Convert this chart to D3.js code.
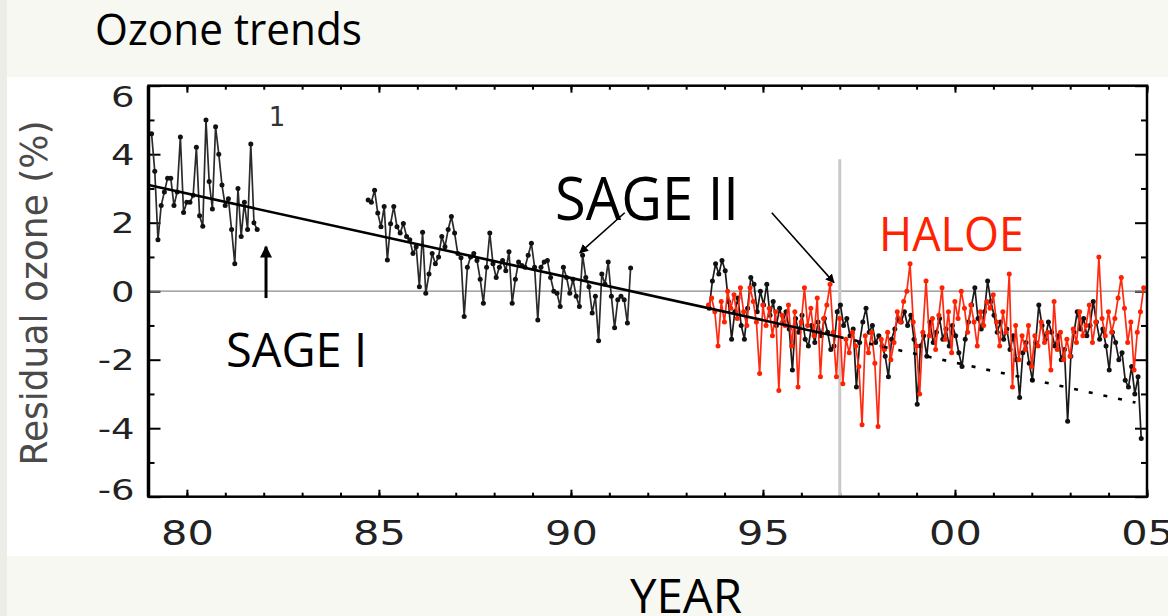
<!DOCTYPE html>
<html>
<head>
<meta charset="utf-8">
<script src="https://cdn.jsdelivr.net/npm/d3@7"></script>
<style>
  body { margin: 0; background: #f7f8f2; }
  svg { display: block; }
</style>
</head>
<body>
<svg id="chart" width="1168" height="616"></svg>
<script>
/**********************
***** DATA *****
**********************/

// monthly residuals, first value at the start year
const sage1Start = 79.08;
const sage1Values = [4.6, 3.5, 1.5, 2.5, 2.9, 3.3, 3.3, 2.5, 2.9, 4.5,
    2.3, 2.6, 2.6, 2.8, 4.2, 2.2, 1.9, 5.0, 3.2, 2.4,
    4.8, 4.0, 3.1, 2.5, 2.7, 1.8, 0.8, 3.0, 1.6, 2.6,
    1.8, 4.3, 2.0, 1.8];

const sage2aStart = 84.72;
const sage2aValues = [2.66, 2.6, 2.95, 2.28, 1.88, 2.47, 0.91, 1.97, 2.47, 1.88,
    1.7, 1.98, 1.6, 1.5, 1.1, 1.3, 0.13, 1.72, -0.06, 0.5,
    1.1, 0.8, 1.0, 1.6, 1.3, 1.8, 2.18, 1.7, 1.1, 0.98,
    -0.74, 0.7, 1.0, 1.1, 0.9, 0.35, -0.35, 0.7, 1.7, 0.8,
    0.4, 0.7, 0.9, 0.6, 1.15, -0.35, 0.35, 0.85, 0.75, 0.7,
    1.05, 1.4, 0.7, -0.84, 0.7, 0.85, 0.9, 0.4, 0.0, -0.06,
    -0.45, 0.7, 0.4, -0.06, 0.35, -0.15, -0.45, 1.05, 0.4, 0.13,
    -0.64, -0.15, -1.45, 0.5, 0.2, 0.85, -0.15, -1.07, -0.25, -0.15,
    -0.25, -0.93, 0.68];

const sage2bStart = 93.6;
const sage2bValues = [-0.5, 0.3, 0.8, 0.5, 0.9, 0.6, -0.3, -1.4, -0.6, -0.2,
    -1.0, -1.4, -0.5, 0.4, 0.2, -0.6, 0.0, -0.4, 0.2, -0.7,
    -0.3, -1.0, -0.5, -0.9, -0.6, -1.1, -2.3, -0.8, -1.2, -0.7,
    -1.4, -1.6, -1.0, -1.5, -0.9, -1.3, -0.8, -1.2, -1.7, -1.6,
    -0.6, -0.4, -1.0, -0.8, -1.3, -1.1, -2.8, -1.5, -0.9, -0.5,
    -1.2, -1.0, -1.5, -1.3, -1.6, -1.9, -2.5, -1.4, -1.1, -0.8,
    -0.9, -0.6, -1.0, -0.7, -1.4, -3.3, -1.6, -1.3, -1.9, -0.9,
    -1.5, -1.2, -0.8, -1.4, -1.1, -1.6, -1.0, -1.3, -1.8, -2.2,
    -1.4, -0.9, -0.4, 0.1, -0.8, -1.1, -0.6, 0.3, -0.3, -0.7,
    -1.2, -0.9, -1.4, -1.1, -1.7, -1.3, -2.0, -3.1, -1.8, -1.5,
    -2.1, -2.6, -1.5, -0.4, -1.0, -1.4, -0.9, -1.2, -1.6, -1.3,
    -2.0, -1.7, -3.8, -1.9, -1.2, -0.6, -1.1, -0.8, -1.3, -1.0,
    -0.3, -0.9, -1.4, -1.1, -1.6, -2.3, -1.2, -1.5, -2.0, -1.8,
    -2.6, -2.8, -2.2, -3.0, -2.5, -4.3];

const haloeStart = 93.58;
const haloeValues = [-0.4, -0.2, -0.6, -1.6, -0.3, -0.9, 0.0, -0.5, -0.1, -0.8,
    0.1, -0.6, -1.0, 0.1, -0.3, -0.9, -2.4, -0.4, -1.0, -0.5,
    -1.3, -0.6, -2.9, -0.7, -1.0, -0.4, -1.6, -0.6, -2.8, -0.9,
    0.1, -1.0, -0.5, -1.3, -0.2, -2.5, -0.8, -0.4, 0.2, -1.2,
    -2.5, -0.8, -2.7, -1.4, -1.8, -1.2, -1.6, -2.2, -3.9, -1.3,
    -1.8, -1.2, -2.1, -3.95, -1.4, -1.7, -1.2, -2.0, -1.5, -0.6,
    -0.9, -0.3, 0.0, 0.8, -0.9, -1.6, -3.0, -1.2, 0.3, -1.3,
    -0.8, -1.7, -0.7, 0.1, -1.4, -0.6, -1.8, -0.3, -0.8, 0.0,
    -0.5, -1.2, -0.4, -0.9, -1.6, -0.6, -1.0, -0.3, -0.5, -0.1,
    -0.9, -1.6, -0.6, -1.2, 0.5, -2.8, -1.0, -2.0, -1.3, -1.7,
    -1.0, -2.2, -1.3, -1.6, -0.9, -1.5, -1.2, -2.3, -0.3, -1.7,
    -1.2, -2.0, -1.4, -1.9, -1.1, -1.5, -0.6, -1.3, -1.0, -0.4,
    -1.5, -0.9, 1.0, -0.8, -1.3, -0.6, -1.2, -0.8, -0.2, 0.4,
    -0.5, -1.5, -0.9, -2.3, -1.2, -0.6, 0.1];

// linear trend and its extrapolation
const trendYears = [79, 97];
const trendValues = [3.1, -1.34];
const trendExtYears = [97, 104.7];
const trendExtValues = [-1.34, -3.25];

// axis ticks
const yearMajor = [80, 85, 90, 95, 100, 105];
const yearMinor = d3.range(79, 106);
const valueMajor = [-6, -4, -2, 0, 2, 4, 6];
const valueMinor = [-5, -3, -1, 1, 3, 5];

const splitYear = 97;

/**********************
***** BASIC SETUP *****
**********************/

const svg = d3.select("#chart");
const margin = {top: 85.7, left: 148.5, right: 21, bottom: 119.3};
const width = 1168, height = 616;

const xScale = d3.scaleLinear()
    .domain([79, 105])
    .range([margin.left, width - margin.right]);
const yScale = d3.scaleLinear()
    .domain([-6, 6])
    .range([height - margin.bottom, margin.top]);

const toSeries = (start, values) => values.map((v, i) => ({year: start + i / 12, value: v}));

// page background and white panel
svg.append("rect").attr("x", 0).attr("y", 0).attr("width", 7).attr("height", height).attr("fill", "#ecede6");
svg.append("rect").attr("x", 7).attr("y", 77).attr("width", width - 7).attr("height", 479).attr("fill", "#ffffff");

/***************************************
***** AXES *****
***************************************/

const noLabel = () => "";
const labelScale = 1.32;

function styleAxis(g) {
    g.select(".domain").remove();
    g.selectAll("line").attr("stroke", "#000").attr("stroke-width", 2);
}

// left
svg.append("g")
    .attr("transform", `translate(${margin.left},0)`)
    .call(d3.axisLeft(yScale).tickValues(valueMinor).tickSizeInner(-6).tickFormat(noLabel))
    .call(styleAxis);
const yAxis = svg.append("g")
    .attr("transform", `translate(${margin.left},0)`)
    .call(d3.axisLeft(yScale).tickValues(valueMajor).tickSizeInner(-12).tickPadding(14)
        .tickFormat(d => String(d)))
    .call(styleAxis);
yAxis.selectAll("text")
    .style("font-family", "DejaVu Sans")
    .style("font-size", "28px")
    .attr("fill", "#222")
    .attr("x", -14 / labelScale)
    .attr("dy", d => d === 6 ? "0.75em" : d === -6 ? "0.1em" : "0.36em")
    .attr("transform", `scale(${labelScale},1)`);

// right
svg.append("g")
    .attr("transform", `translate(${width - margin.right},0)`)
    .call(d3.axisRight(yScale).tickValues(valueMinor).tickSizeInner(-6).tickFormat(noLabel))
    .call(styleAxis);
svg.append("g")
    .attr("transform", `translate(${width - margin.right},0)`)
    .call(d3.axisRight(yScale).tickValues(valueMajor).tickSizeInner(-12).tickFormat(noLabel))
    .call(styleAxis);

// top
svg.append("g")
    .attr("transform", `translate(0,${margin.top})`)
    .call(d3.axisTop(xScale).tickValues(yearMinor).tickSizeInner(-4).tickFormat(noLabel))
    .call(styleAxis);
svg.append("g")
    .attr("transform", `translate(0,${margin.top})`)
    .call(d3.axisTop(xScale).tickValues(yearMajor).tickSizeInner(-7).tickFormat(noLabel))
    .call(styleAxis);

// bottom
svg.append("g")
    .attr("transform", `translate(0,${height - margin.bottom})`)
    .call(d3.axisBottom(xScale).tickValues(yearMinor).tickSizeInner(-4).tickFormat(noLabel))
    .call(styleAxis);
const xAxis = svg.append("g")
    .attr("transform", `translate(0,${height - margin.bottom})`)
    .call(d3.axisBottom(xScale).tickValues(yearMajor).tickSizeInner(-7).tickPadding(24)
        .tickFormat(d => String(d % 100).padStart(2, "0")))
    .call(styleAxis);
xAxis.selectAll("text")
    .style("font-family", "DejaVu Sans")
    .style("font-size", "34px")
    .attr("fill", "#222")
    .attr("x", 0)
    .attr("transform", `scale(${labelScale - 0.1},1)`);

/***************************************
***** REFERENCE LINES *****
***************************************/

svg.append("line")
    .attr("x1", xScale(79)).attr("x2", xScale(105))
    .attr("y1", yScale(0)).attr("y2", yScale(0))
    .attr("stroke", "#8a8a8a").attr("stroke-width", 1.2);

svg.append("line")
    .attr("x1", xScale(splitYear)).attr("x2", xScale(splitYear))
    .attr("y1", yScale(3.85)).attr("y2", yScale(-6))
    .attr("stroke", "#c9c9c9").attr("stroke-width", 3);

/***************************************
***** SERIES *****
***************************************/

const line = d3.line().x(d => xScale(d.year)).y(d => yScale(d.value));

function drawSeries(data, lineColor, dotColor) {
    const g = svg.append("g");
    g.append("path")
        .datum(data)
        .attr("d", line)
        .attr("fill", "none")
        .attr("stroke", lineColor)
        .attr("stroke-width", 1.7)
        .attr("stroke-linejoin", "round");
    g.selectAll("circle")
        .data(data)
        .enter()
        .append("circle")
        .attr("cx", d => xScale(d.year))
        .attr("cy", d => yScale(d.value))
        .attr("r", 2.5)
        .attr("fill", dotColor);
}

drawSeries(toSeries(sage1Start, sage1Values), "#2a2a2a", "#111");
drawSeries(toSeries(sage2aStart, sage2aValues), "#2a2a2a", "#111");
drawSeries(toSeries(sage2bStart, sage2bValues), "#1a1a1a", "#111");
drawSeries(toSeries(haloeStart, haloeValues), "#ff2a10", "#ff2200");

// trend
const trend = trendYears.map((yr, i) => ({year: yr, value: trendValues[i]}));
const trendExt = trendExtYears.map((yr, i) => ({year: yr, value: trendExtValues[i]}));
svg.append("path").datum(trend).attr("d", line)
    .attr("fill", "none").attr("stroke", "#000").attr("stroke-width", 2.6);
svg.append("path").datum(trendExt).attr("d", line)
    .attr("fill", "none").attr("stroke", "#000").attr("stroke-width", 2.6)
    .attr("stroke-dasharray", "4,11");

// frame
svg.append("rect")
    .attr("x", xScale(79)).attr("y", yScale(6))
    .attr("width", xScale(105) - xScale(79))
    .attr("height", yScale(-6) - yScale(6))
    .attr("fill", "none").attr("stroke", "#000").attr("stroke-width", 2.5);
svg.append("line")
    .attr("x1", xScale(79)).attr("x2", xScale(79))
    .attr("y1", yScale(6)).attr("y2", yScale(-6))
    .attr("stroke", "#000").attr("stroke-width", 3.5);

/***************************************
***** ANNOTATIONS *****
***************************************/

const defs = svg.append("defs");
defs.append("marker")
    .attr("id", "head").attr("viewBox", "0 0 10 10")
    .attr("refX", 9).attr("refY", 5)
    .attr("markerWidth", 9).attr("markerHeight", 9)
    .attr("markerUnits", "userSpaceOnUse")
    .attr("orient", "auto")
    .append("path").attr("d", "M0,0 L10,5 L0,10 Z").attr("fill", "#000");
defs.append("marker")
    .attr("id", "headBig").attr("viewBox", "0 0 10 10")
    .attr("refX", 9).attr("refY", 5)
    .attr("markerWidth", 14).attr("markerHeight", 12)
    .attr("markerUnits", "userSpaceOnUse")
    .attr("orient", "auto")
    .append("path").attr("d", "M0,0 L10,5 L0,10 Z").attr("fill", "#000");

const arrows = [
    {from: [82.06, -0.2], to: [82.06, 1.3], width: 3, marker: "headBig"},
    {from: [91.4, 2.29], to: [90.23, 1.12], width: 1.6, marker: "head"},
    {from: [95.23, 2.29], to: [96.85, 0.25], width: 1.6, marker: "head"}
];
svg.selectAll(".arrow")
    .data(arrows)
    .enter()
    .append("line")
    .attr("class", "arrow")
    .attr("x1", d => xScale(d.from[0])).attr("y1", d => yScale(d.from[1]))
    .attr("x2", d => xScale(d.to[0])).attr("y2", d => yScale(d.to[1]))
    .attr("stroke", "#000").attr("stroke-width", d => d.width)
    .attr("marker-end", d => `url(#${d.marker})`);

const labels = [
    {text: "Ozone trends", x: 95, y: 45, size: 43, len: 267, color: "#000"},
    {text: "SAGE II", x: 555, y: 220, size: 60, len: 184, color: "#000"},
    {text: "SAGE I", x: 226, y: 367, size: 48, len: 141, color: "#000"},
    {text: "HALOE", x: 879, y: 251, size: 48, len: 145, color: "#ff2200"},
    {text: "YEAR", x: 630, y: 613, size: 48, len: 112, color: "#000"}
];
svg.selectAll(".label")
    .data(labels)
    .enter()
    .append("text")
    .attr("class", "label")
    .attr("x", d => d.x).attr("y", d => d.y)
    .attr("textLength", d => d.len)
    .attr("lengthAdjust", "spacingAndGlyphs")
    .style("font-family", "Open Sans")
    .style("font-size", d => d.size + "px")
    .attr("fill", d => d.color)
    .text(d => d.text);

// panel number
svg.append("text")
    .attr("x", 277).attr("y", 126)
    .attr("text-anchor", "middle")
    .style("font-family", "DejaVu Sans")
    .style("font-size", "26px")
    .attr("fill", "#333")
    .text("1");

// y axis title
svg.append("text")
    .attr("transform", "translate(47,293) rotate(-90) scale(1,1.3)")
    .attr("text-anchor", "middle")
    .attr("textLength", 345)
    .attr("lengthAdjust", "spacingAndGlyphs")
    .style("font-family", "DejaVu Sans")
    .style("font-size", "29px")
    .attr("fill", "#4a4a4a")
    .text("Residual ozone (%)");
</script>
</body>
</html>
